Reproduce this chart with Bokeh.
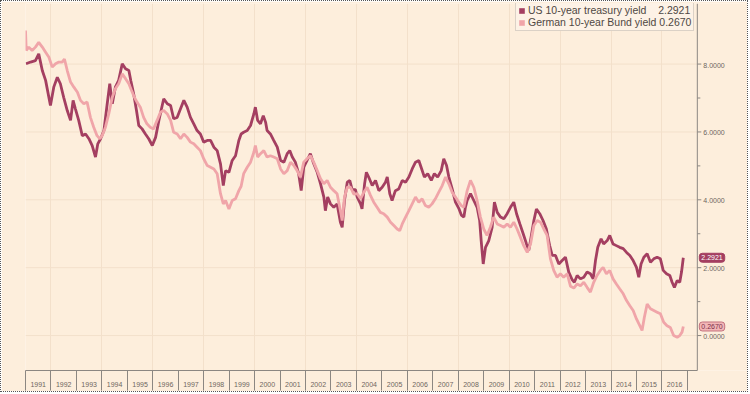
from bokeh.plotting import figure
from bokeh.models import FixedTicker, Range1d, Label, Legend, LegendItem, Span
from bokeh.core.properties import value
from bokeh.embed import file_html
from bokeh.resources import INLINE

# ---------------- data ----------------
us_year = [1991.02, 1991.20, 1991.39, 1991.52, 1991.66, 1991.79, 1991.98, 1992.11, 1992.25, 1992.37,
           1992.50, 1992.64, 1992.77, 1992.87, 1992.96, 1993.09, 1993.23, 1993.36, 1993.49, 1993.62,
           1993.75, 1993.84, 1993.95, 1994.08, 1994.21, 1994.31, 1994.41, 1994.53, 1994.66, 1994.80,
           1994.93, 1995.06, 1995.14, 1995.25, 1995.36, 1995.45, 1995.58, 1995.71, 1995.84, 1995.98,
           1996.11, 1996.24, 1996.37, 1996.43, 1996.57, 1996.70, 1996.82, 1996.96, 1997.09, 1997.22,
           1997.35, 1997.48, 1997.61, 1997.74, 1997.87, 1998.00, 1998.14, 1998.27, 1998.40, 1998.53,
           1998.66, 1998.77, 1998.86, 1998.99, 1999.12, 1999.25, 1999.38, 1999.47, 1999.57, 1999.71,
           1999.84, 1999.97, 2000.03, 2000.12, 2000.23, 2000.34, 2000.43, 2000.49, 2000.62, 2000.75,
           2000.89, 2001.02, 2001.15, 2001.28, 2001.38, 2001.48, 2001.60, 2001.73, 2001.83, 2001.93,
           2002.06, 2002.19, 2002.30, 2002.46, 2002.59, 2002.72, 2002.78, 2002.87, 2002.98, 2003.11,
           2003.24, 2003.37, 2003.44, 2003.53, 2003.64, 2003.74, 2003.83, 2003.96, 2004.03, 2004.16,
           2004.22, 2004.32, 2004.39, 2004.48, 2004.62, 2004.75, 2004.88, 2005.01, 2005.14, 2005.21,
           2005.31, 2005.40, 2005.53, 2005.66, 2005.80, 2005.93, 2006.06, 2006.19, 2006.32, 2006.45,
           2006.54, 2006.67, 2006.80, 2006.94, 2007.06, 2007.19, 2007.33, 2007.43, 2007.54, 2007.63,
           2007.76, 2007.89, 2008.02, 2008.12, 2008.22, 2008.28, 2008.35, 2008.48, 2008.61, 2008.74,
           2008.84, 2008.90, 2008.98, 2009.07, 2009.20, 2009.33, 2009.42, 2009.53, 2009.66, 2009.79,
           2009.92, 2010.05, 2010.18, 2010.29, 2010.42, 2010.55, 2010.68, 2010.77, 2010.86, 2010.97,
           2011.07, 2011.20, 2011.33, 2011.46, 2011.59, 2011.69, 2011.82, 2011.95, 2012.08, 2012.21,
           2012.34, 2012.47, 2012.56, 2012.67, 2012.80, 2012.93, 2013.06, 2013.19, 2013.30, 2013.39,
           2013.48, 2013.61, 2013.71, 2013.85, 2013.95, 2014.08, 2014.21, 2014.34, 2014.48, 2014.61,
           2014.74, 2014.87, 2015.00, 2015.09, 2015.18, 2015.29, 2015.42, 2015.55, 2015.68, 2015.81,
           2015.94, 2016.05, 2016.18, 2016.31, 2016.40, 2016.49, 2016.60, 2016.70, 2016.77, 2016.84]
us_yield = [8.01, 8.06, 8.10, 8.30, 7.81, 7.52, 6.78, 7.32, 7.61, 7.42,
            7.02, 6.63, 6.34, 6.93, 6.68, 6.34, 5.89, 5.94, 5.80, 5.60,
            5.26, 5.65, 5.80, 6.04, 6.83, 7.42, 6.83, 7.32, 7.52, 8.01,
            7.86, 7.81, 7.50, 7.12, 6.63, 6.19, 6.09, 5.94, 5.80, 5.60,
            5.84, 6.34, 6.78, 6.98, 6.83, 6.78, 6.39, 6.43, 6.68, 6.93,
            6.73, 6.43, 6.24, 6.04, 5.94, 5.70, 5.75, 5.75, 5.55, 5.45,
            5.06, 4.42, 4.86, 4.81, 5.16, 5.30, 5.75, 5.94, 5.99, 6.04,
            6.19, 6.53, 6.73, 6.34, 6.24, 6.48, 6.29, 6.04, 5.94, 5.75,
            5.55, 5.16, 5.11, 5.36, 5.45, 5.26, 5.11, 4.77, 4.27, 4.96,
            5.16, 5.36, 5.11, 4.81, 4.47, 4.08, 3.68, 4.08, 3.88, 3.78,
            3.88, 3.34, 3.19, 3.98, 4.52, 4.57, 4.30, 4.30, 4.08, 3.88,
            3.73, 4.47, 4.81, 4.67, 4.42, 4.57, 4.27, 4.37, 4.52, 4.67,
            4.18, 3.98, 4.27, 4.32, 4.57, 4.52, 4.67, 4.91, 5.11, 5.16,
            4.96, 4.67, 4.77, 4.57, 4.77, 4.67, 4.86, 5.21, 5.01, 4.67,
            4.32, 3.93, 3.75, 3.55, 3.49, 3.78, 3.98, 4.18, 3.98, 3.78,
            3.39, 2.80, 2.11, 2.60, 2.80, 3.19, 3.93, 3.63, 3.49, 3.44,
            3.59, 3.78, 3.93, 3.59, 3.29, 3.00, 2.70, 2.51, 2.90, 3.39,
            3.73, 3.59, 3.39, 3.14, 2.65, 2.36, 2.36, 2.11, 2.21, 2.31,
            1.87, 1.65, 1.57, 1.77, 1.67, 1.72, 1.87, 1.82, 1.67, 2.21,
            2.60, 2.85, 2.70, 2.80, 2.95, 2.70, 2.65, 2.60, 2.56, 2.45,
            2.36, 2.21, 2.01, 1.72, 2.11, 2.31, 2.41, 2.16, 2.26, 2.31,
            2.26, 1.92, 1.82, 1.77, 1.57, 1.42, 1.62, 1.57, 1.87, 2.2921]

de_year = [1991.00, 1991.03, 1991.13, 1991.26, 1991.39, 1991.52, 1991.66, 1991.79, 1991.92, 1992.05,
           1992.18, 1992.31, 1992.44, 1992.53, 1992.64, 1992.77, 1992.90, 1993.04, 1993.16, 1993.29,
           1993.42, 1993.55, 1993.68, 1993.81, 1993.92, 1994.01, 1994.14, 1994.27, 1994.41, 1994.53,
           1994.66, 1994.80, 1994.93, 1995.06, 1995.15, 1995.28, 1995.38, 1995.51, 1995.64, 1995.77,
           1995.90, 1996.03, 1996.17, 1996.30, 1996.43, 1996.57, 1996.70, 1996.82, 1996.96, 1997.09,
           1997.22, 1997.35, 1997.48, 1997.61, 1997.74, 1997.87, 1998.00, 1998.14, 1998.27, 1998.40,
           1998.53, 1998.66, 1998.77, 1998.86, 1998.99, 1999.12, 1999.25, 1999.38, 1999.47, 1999.57,
           1999.71, 1999.84, 1999.97, 2000.03, 2000.12, 2000.23, 2000.36, 2000.49, 2000.62, 2000.75,
           2000.89, 2001.02, 2001.15, 2001.28, 2001.41, 2001.54, 2001.67, 2001.80, 2001.93, 2002.06,
           2002.19, 2002.32, 2002.46, 2002.59, 2002.72, 2002.85, 2002.98, 2003.11, 2003.24, 2003.37,
           2003.44, 2003.53, 2003.64, 2003.77, 2003.89, 2004.03, 2004.16, 2004.29, 2004.42, 2004.55,
           2004.68, 2004.81, 2004.94, 2005.07, 2005.21, 2005.34, 2005.47, 2005.60, 2005.70, 2005.80,
           2005.93, 2006.06, 2006.19, 2006.32, 2006.45, 2006.58, 2006.71, 2006.84, 2006.97, 2007.10,
           2007.23, 2007.37, 2007.50, 2007.63, 2007.76, 2007.89, 2008.02, 2008.12, 2008.22, 2008.35,
           2008.48, 2008.61, 2008.74, 2008.87, 2009.00, 2009.13, 2009.26, 2009.39, 2009.53, 2009.66,
           2009.79, 2009.92, 2010.05, 2010.18, 2010.31, 2010.44, 2010.57, 2010.71, 2010.84, 2010.97,
           2011.10, 2011.23, 2011.36, 2011.49, 2011.62, 2011.75, 2011.88, 2012.01, 2012.14, 2012.28,
           2012.41, 2012.54, 2012.67, 2012.80, 2012.93, 2013.06, 2013.19, 2013.32, 2013.45, 2013.58,
           2013.69, 2013.82, 2013.95, 2014.08, 2014.21, 2014.34, 2014.48, 2014.61, 2014.74, 2014.87,
           2015.00, 2015.13, 2015.22, 2015.31, 2015.42, 2015.55, 2015.68, 2015.81, 2015.94, 2016.07,
           2016.20, 2016.33, 2016.46, 2016.60, 2016.70, 2016.79, 2016.84]
de_yield = [8.99, 8.40, 8.50, 8.40, 8.50, 8.64, 8.50, 8.35, 8.20, 7.91,
            8.01, 8.06, 8.06, 8.15, 7.81, 7.47, 7.32, 7.17, 6.93, 6.83,
            6.88, 6.43, 6.14, 5.89, 5.80, 5.89, 6.14, 6.53, 7.02, 7.27,
            7.42, 7.71, 7.57, 7.42, 7.25, 7.02, 6.88, 6.73, 6.43, 6.24,
            6.14, 6.09, 6.34, 6.58, 6.63, 6.53, 6.34, 5.99, 5.94, 5.80,
            5.94, 5.84, 5.70, 5.65, 5.55, 5.45, 5.21, 5.01, 4.96, 4.91,
            4.77, 4.18, 3.88, 3.98, 3.73, 3.98, 4.03, 4.27, 4.40, 4.77,
            4.96, 5.11, 5.40, 5.60, 5.26, 5.36, 5.45, 5.26, 5.30, 5.26,
            5.21, 4.91, 4.77, 4.86, 5.11, 5.01, 4.86, 4.67, 5.11, 5.21,
            5.30, 5.11, 4.86, 4.62, 4.47, 4.57, 4.37, 4.27, 4.18, 3.68,
            3.39, 4.08, 4.37, 4.37, 4.17, 4.18, 4.03, 4.22, 4.37, 4.13,
            3.93, 3.78, 3.63, 3.59, 3.49, 3.34, 3.24, 3.14, 3.09, 3.29,
            3.49, 3.68, 3.88, 4.08, 3.93, 4.03, 3.83, 3.78, 3.88, 4.03,
            4.22, 4.42, 4.67, 4.47, 4.22, 4.08, 3.93, 3.83, 3.78, 4.27,
            4.57, 4.37, 3.98, 3.49, 3.14, 2.95, 3.19, 3.49, 3.29, 3.24,
            3.19, 3.29, 3.19, 3.34, 3.14, 2.90, 2.65, 2.45, 2.70, 3.24,
            3.39, 3.34, 3.14, 2.95, 2.26, 1.92, 1.72, 1.82, 1.72, 1.82,
            1.45, 1.40, 1.52, 1.47, 1.57, 1.42, 1.28, 1.57, 1.77, 1.92,
            2.01, 1.82, 1.92, 1.67, 1.52, 1.38, 1.23, 1.03, 0.88, 0.74,
            0.49, 0.29, 0.15, 0.54, 0.93, 0.79, 0.74, 0.69, 0.64, 0.39,
            0.29, 0.24, 0.00, -0.05, 0.00, 0.10, 0.2670]

years = list(range(1991, 2017))
year_labels = [str(y) for y in years]
y_major = [0, 2, 4, 6, 8]
y_minor = [1, 3, 5, 7]
series_names = ["US 10-year treasury yield", "German 10-year Bund yield"]

# ---------------- styling ----------------
BG = "#FDEEDC"
US_C = "#A43F61"
DE_C = "#F0A5A9"
AXIS_C = "#8C8782"
GRID_C = "#F3E0CB"
TXT_C = "#6E6660"
FONT = "Liberation Sans"

x_start = 1991.0      # left edge of the frame
x_axis_pos = 2017.39  # where the value axis is drawn
x_right = 2019.44     # frame extends past the value axis to hold its labels

p = figure(width=748, height=392, output_backend="svg", toolbar_location=None,
           x_range=Range1d(x_start, x_right), y_range=Range1d(-1.03, 9.785),
           min_border_left=24, min_border_right=0, min_border_top=2, min_border_bottom=23)
p.styles = {"border": "1px dotted #555"}
p.background_fill_color = BG
p.border_fill_color = BG
p.outline_line_color = None

# x axis: labels centred in each year, boundary ticks drawn as minor ticks
xa = p.xaxis[0]
xa.ticker = FixedTicker(ticks=[y + 0.5 for y in years], minor_ticks=list(range(1991, 2018)))
xa.major_label_overrides = {y + 0.5: lab for y, lab in zip(years, year_labels)}
xa.bounds = (x_start, x_axis_pos)
xa.major_tick_line_color = None
xa.major_tick_out = 0
xa.major_tick_in = 0
xa.minor_tick_in = 0
xa.minor_tick_out = 20
xa.minor_tick_line_color = AXIS_C
xa.axis_line_color = AXIS_C
xa.major_label_standoff = -9
xa.major_label_text_font = FONT
xa.major_label_text_font_size = "7px"
xa.major_label_text_color = TXT_C

# value axis on the right, drawn inside the (extended) frame
p.yaxis.visible = False
p.ygrid.visible = False
p.xgrid.ticker = FixedTicker(ticks=list(range(1992, 2017, 2)))
p.xgrid.grid_line_color = GRID_C

p.segment(x0=[x_start] * len(y_major), x1=[x_axis_pos] * len(y_major), y0=y_major, y1=y_major,
          line_color=GRID_C, line_width=1)
p.add_layout(Span(location=x_axis_pos, dimension="height", line_color=AXIS_C, line_width=1))
p.ray(x=[x_axis_pos] * len(y_major), y=y_major, length=4, length_units="screen", angle=0,
      line_color=AXIS_C, line_width=1)
p.ray(x=[x_axis_pos] * len(y_minor), y=y_minor, length=3, length_units="screen", angle=0,
      line_color=AXIS_C, line_width=1)
p.text(x=[x_axis_pos] * len(y_major), y=y_major, text=[f"{v:.4f}" for v in y_major],
       x_offset=6, y_offset=1, text_baseline="middle", text_align="left",
       text_font=value(FONT), text_font_size="7px", text_color=TXT_C)

# lines
p.line(us_year, us_yield, line_color=US_C, line_width=2.8)
p.line(de_year, de_yield, line_color=DE_C, line_width=2.8)

# legend swatches: hidden one-point area glyphs at each series' last value
sw_us = p.quad(left=[us_year[-1]], right=[us_year[-1]], top=[us_yield[-1]], bottom=[us_yield[-1]],
               fill_color=US_C, line_color=None, visible=False)
sw_de = p.quad(left=[de_year[-1]], right=[de_year[-1]], top=[de_yield[-1]], bottom=[de_yield[-1]],
               fill_color=DE_C, line_color=None, visible=False)
legend = Legend(items=[
    LegendItem(label=f"{series_names[0]}    {us_yield[-1]:.4f}", renderers=[sw_us]),
    LegendItem(label=f"{series_names[1]} {de_yield[-1]:.4f}", renderers=[sw_de]),
], location=(490, 339))
legend.background_fill_color = "#FDF2E6"
legend.background_fill_alpha = 1.0
legend.border_line_color = "#B9B0A6"
legend.inactive_fill_alpha = 0.0
legend.label_text_font = FONT
legend.label_text_font_size = "10.5px"
legend.label_text_color = "#4F4843"
legend.glyph_width = 7
legend.glyph_height = 7
legend.label_height = 10
legend.label_standoff = 3
legend.spacing = 0
legend.padding = 2
legend.margin = 0
p.add_layout(legend)

# last-value boxes next to the value axis
p.add_layout(Label(x=x_axis_pos, y=us_yield[-1], x_offset=2, text=f"{us_yield[-1]:.4f}",
                   text_font=FONT, text_font_size="7px", text_color="white",
                   text_baseline="middle", background_fill_color=US_C,
                   border_line_color=US_C, padding=2, border_radius=3))
p.add_layout(Label(x=x_axis_pos, y=de_yield[-1], x_offset=2, text=f"{de_yield[-1]:.4f}",
                   text_font=FONT, text_font_size="7px", text_color="#7A2F4A",
                   text_baseline="middle", background_fill_color="#F2B6B6",
                   border_line_color="#C4737F", padding=2, border_radius=3))

open("out.html", "w").write(file_html(p, INLINE))
